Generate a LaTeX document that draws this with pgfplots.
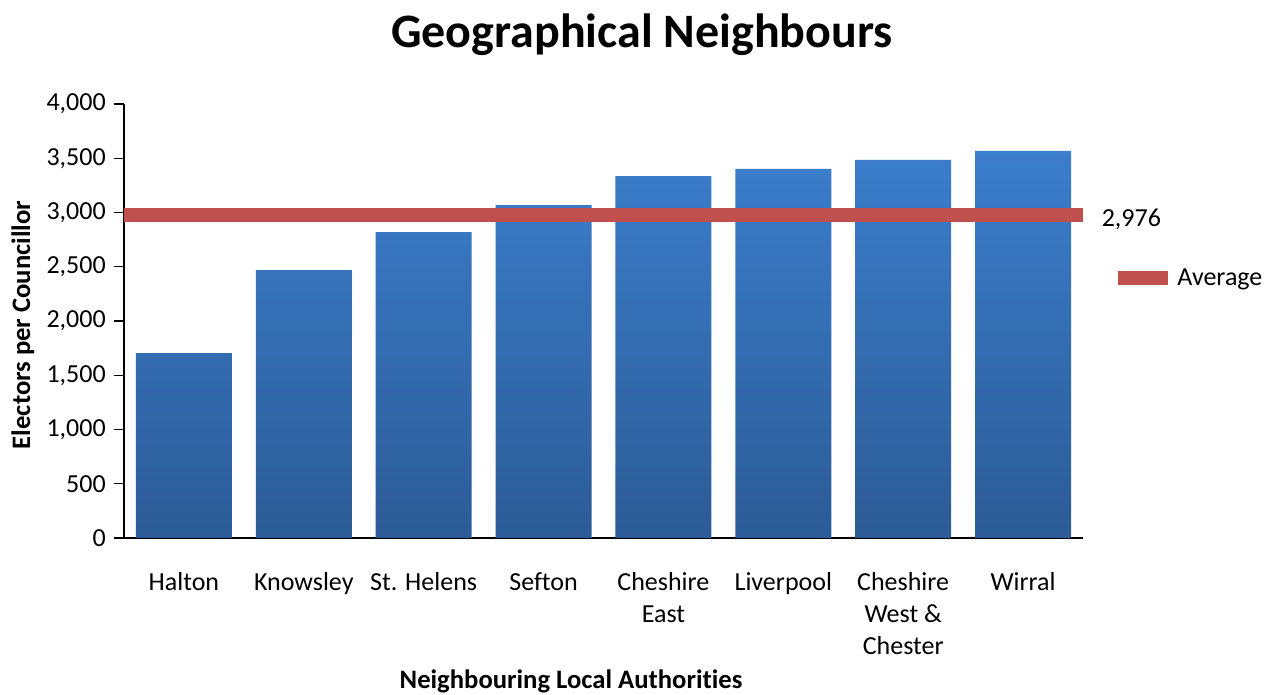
\documentclass[border=0pt]{standalone}
\usepackage{fontspec}
\setmainfont{Carlito}[Ligatures=NoCommon]
\usepackage{pgfplots}
\pgfplotsset{compat=1.18}
\definecolor{barTop}{HTML}{3B7ECC}
\definecolor{barBot}{HTML}{2C5B96}
\definecolor{avgRed}{HTML}{C0504D}
\begin{document}
\begin{tikzpicture}
\path[use as bounding box] (-93pt,-117.75pt) rectangle (862.5pt,403.5pt);
\begin{axis}[
  at={(0pt,0pt)}, anchor=south west,
  scale only axis, width=719.25pt, height=325.5pt,
  xmin=-0.5, xmax=7.5, ymin=0, ymax=4000,
  clip=false,
  axis lines=left,
  axis line style={-, line width=0.9pt, black},
  xtick={0,...,7},
  xticklabels={Halton, Knowsley, St. Helens, Sefton, {Cheshire\\East}, Liverpool, {Cheshire\\West \&\\Chester}, Wirral},
  x tick style={draw=none},
  ytick={0,500,...,4000},
  y tick style={line width=0.9pt, black},
  tick align=outside, major tick length=7.5pt,
  scaled y ticks=false,
  /pgf/number format/1000 sep={,},
  /pgf/number format/assume math mode=true,
  tick label style={font=\fontsize{19.5pt}{24pt}\selectfont},
  xticklabel style={align=center, anchor=north, inner sep=0pt, yshift=-18pt},
  yticklabel style={anchor=east, inner sep=0pt, xshift=-6pt},
  legend style={at={(1.0245,0.599)}, anchor=west, draw=none, fill=none,
    font=\fontsize{19.5pt}{24pt}\selectfont},
  legend cell align=left,
  legend image code/.code={\draw[#1, line width=10.5pt] (0pt,0pt) -- (37.5pt,0pt);},
]
\addplot[ybar, bar width=0.8, draw=none, top color=barTop, bottom color=barBot, forget plot]
  coordinates {(0,1705) (1,2470) (2,2820) (3,3069) (4,3336) (5,3401) (6,3484) (7,3567)};
\addplot[avgRed, line width=10.5pt, mark=none]
  coordinates {(-0.5,2976) (7.5,2976)}
  node[pos=1, anchor=west, xshift=5.5pt, yshift=-3pt, black,
       font=\fontsize{19.5pt}{24pt}\selectfont] {2,976};
\addlegendentry{Average}
\end{axis}
\node[anchor=base, font=\fontsize{36pt}{40pt}\selectfont\bfseries] at (388.5pt,367.5pt) {Geographical Neighbours};
\node[anchor=base, font=\fontsize{20pt}{24pt}\selectfont\bfseries] at (335.25pt,-113pt) {Neighbouring Local Authorities};
\node[anchor=base, rotate=90, font=\fontsize{20pt}{24pt}\selectfont\bfseries] at (-70.5pt,159.75pt) {Electors per Councillor};
\end{tikzpicture}
\end{document}
